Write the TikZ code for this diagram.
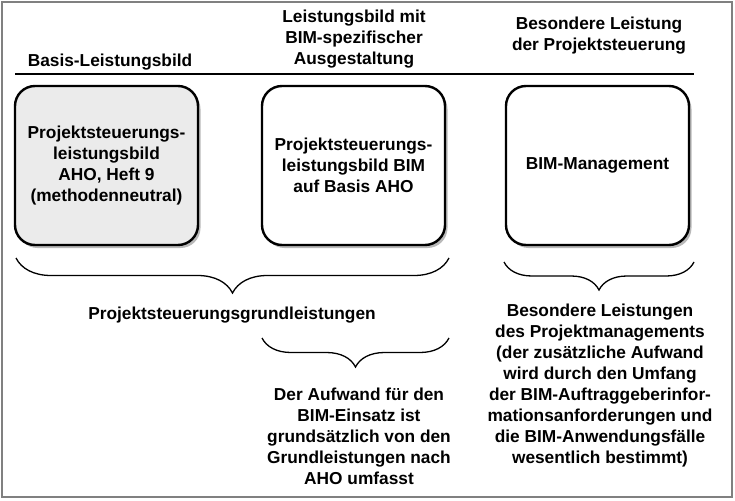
\documentclass[tikz,border=0pt]{standalone}
\usepackage{fontspec}
\setmainfont{Liberation Sans}
\usepackage{tikz}
\usetikzlibrary{decorations.pathreplacing,shadows}

\begin{document}
\begin{tikzpicture}[x=1pt,y=-1pt,
  txt/.style={align=center,font=\fontsize{17.3}{21}\selectfont\bfseries},
  blk/.style={draw,line width=2.4pt,rounded corners=20pt,minimum width=183pt,minimum height=159pt,
              txt,fill=#1,drop shadow={shadow xshift=2.5pt,shadow yshift=-3pt,fill=black!55}},
  blk/.default=white,
  brc/.style={decorate,decoration={brace,mirror,amplitude=#1},line width=1.3pt},brc/.default=30pt]
  \useasboundingbox (0,0) rectangle (735,500);
  \draw[gray,line width=1.4pt] (2,2) rectangle (732,497);
  % headers
  \node[txt] (ha) at (110,62) {Basis-Leistungsbild};
  \node[txt] (hb) at (354,39) {Leistungsbild mit\\BIM-spezifischer\\Ausgestaltung};
  \node[txt] (hc) at (599,36) {Besondere Leistung\\der Projektsteuerung};
  \draw[line width=1.4pt] (15,74) -- (694,74);
  % boxes
  \node[blk=black!8] (a) at (106.5,165.5) {Projektsteuerungs-\\leistungsbild\\AHO, Heft 9\\(methodenneutral)};
  \node[blk] (b) at (353.5,165.5) {Projektsteuerungs-\\leistungsbild BIM\\auf Basis AHO};
  \node[blk] (c) at (597.5,165.5) {BIM-Management};
  % braces
  \coordinate (p1) at (16,258);  \coordinate (p2) at (449,258);
  \coordinate (q1) at (262,338); \coordinate (q2) at (449,338);
  \coordinate (r1) at (504,262); \coordinate (r2) at (694,262);
  \draw[brc=35pt] (p1) -- (p2);
  \draw[brc=29pt] (q1) -- (q2);
  \draw[brc=28pt] (r1) -- (r2);
  \node[txt] (ga) at (232,315) {Projektsteuerungsgrundleistungen};
  \node[txt] (gb) at (359,436) {Der Aufwand für den\\BIM-Einsatz ist\\grundsätzlich von den\\Grundleistungen nach\\AHO umfasst};
  \node[txt] (gc) at (600,386) {Besondere Leistungen\\des Projektmanagements\\(der zusätzliche Aufwand\\wird durch den Umfang\\der BIM-Auftraggeberinfor-\\mationsanforderungen und\\die BIM-Anwendungsfälle\\wesentlich bestimmt)};
\end{tikzpicture}
\end{document}
